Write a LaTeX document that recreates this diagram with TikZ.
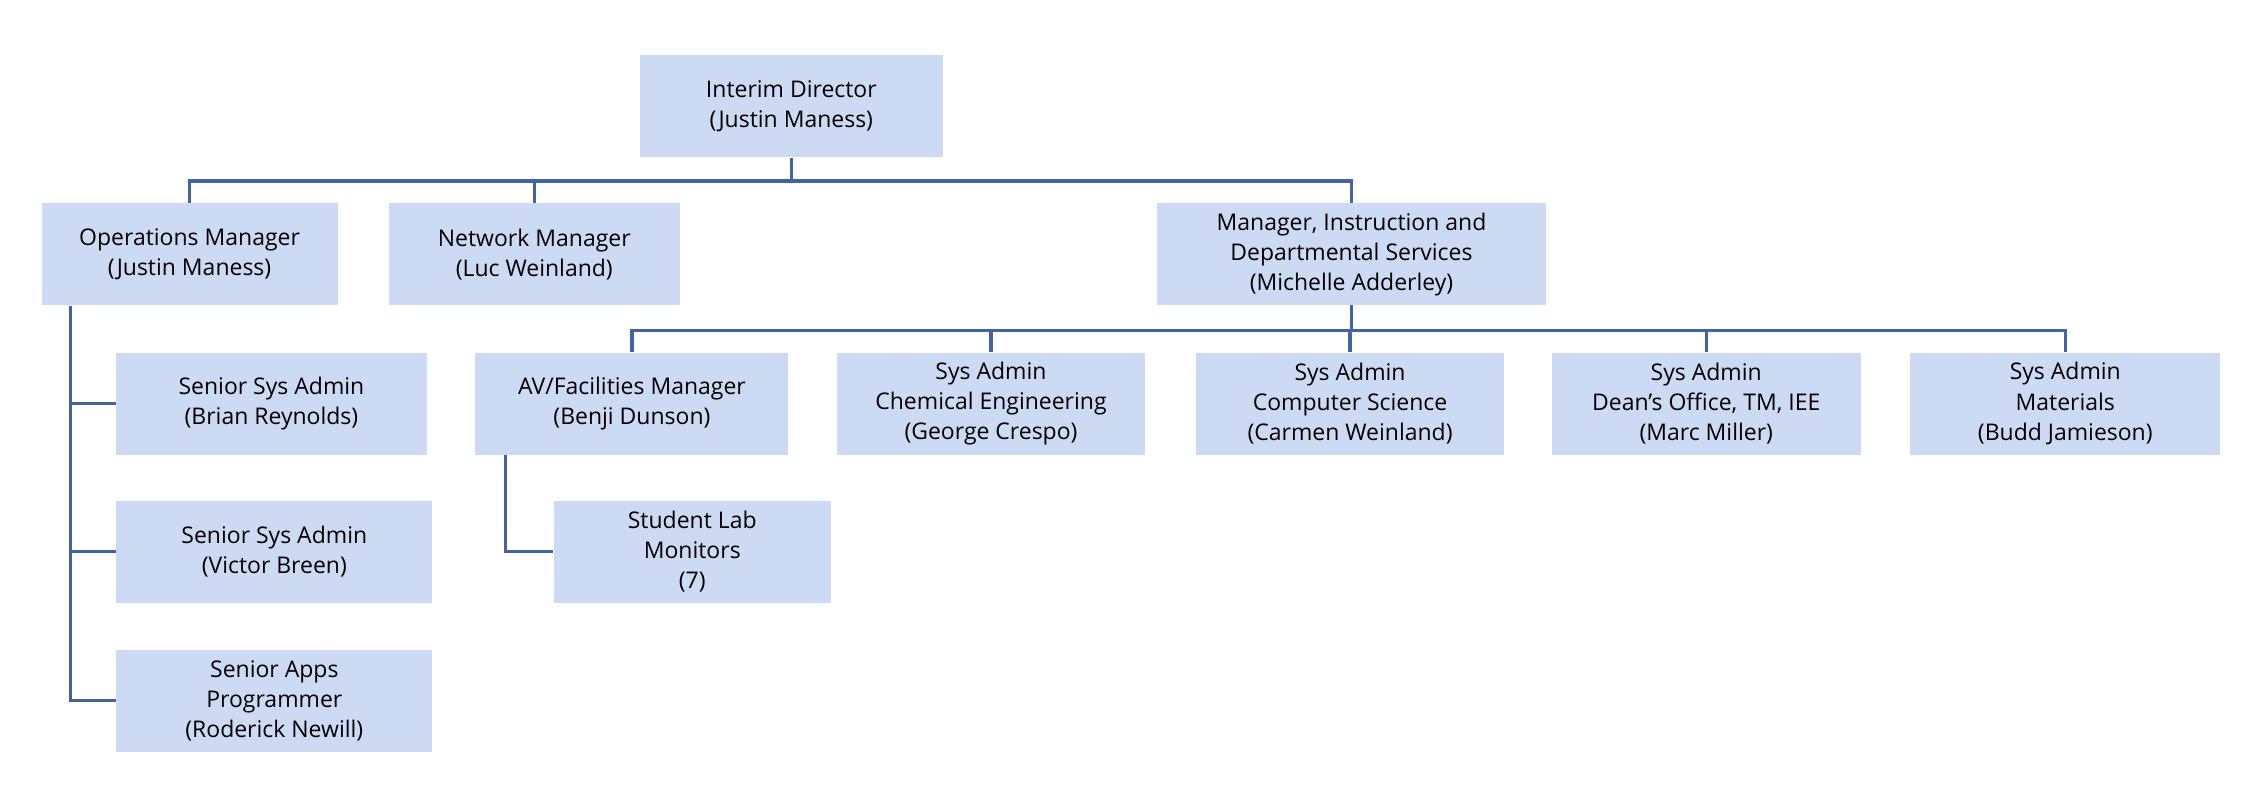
\documentclass[tikz,border=0pt]{standalone}
\usepackage{fontspec}
\setmainfont{Open Sans}
\definecolor{bx}{HTML}{CDDAF3}
\definecolor{ln}{HTML}{4462A8}
\begin{document}
\begin{tikzpicture}[x=1pt,y=-1pt,
 b/.style={fill=bx,draw=none,minimum height=71pt,align=center,font=\fontsize{16}{21}\selectfont,inner sep=0pt},
 c/.style={draw=ln,line width=2.2pt}]
\useasboundingbox (0,0) rectangle (1568,554);
\node[b,minimum width=211pt] (dir) at (551,74) {Interim Director\\(Justin Maness)};
\node[b,minimum width=206pt] (ops) at (132,177) {Operations Manager\\(Justin Maness)};
\node[b,minimum width=203pt] (net) at (372,177) {Network Manager\\(Luc Weinland)};
\node[b,minimum width=271pt] (mgr) at (941,177) {Manager, Instruction and\\Departmental Services\\(Michelle Adderley)};
\node[b,minimum width=216pt] (s1) at (189,281) {Senior Sys Admin\\(Brian Reynolds)};
\node[b,minimum width=220pt] (s2) at (191,384) {Senior Sys Admin\\(Victor Breen)};
\node[b,minimum width=220pt] (s3) at (191,488) {Senior Apps\\Programmer\\(Roderick Newill)};
\node[b,minimum width=218pt] (av) at (440,281) {AV/Facilities Manager\\(Benji Dunson)};
\node[b,minimum width=215pt] (ch) at (690,281) {Sys Admin\\Chemical Engineering\\(George Crespo)};
\node[b,minimum width=215pt] (cs) at (940,281) {Sys Admin\\Computer Science\\(Carmen Weinland)};
\node[b,minimum width=215pt] (dn) at (1188,281) {Sys Admin\\Dean's Office, TM, IEE\\(Marc Miller)};
\node[b,minimum width=216pt] (ma) at (1438,281) {Sys Admin\\Materials\\(Budd Jamieson)};
\node[b,minimum width=193pt] (sl) at (482,384) {Student Lab\\Monitors\\(7)};
\coordinate (j1) at (551,126);
\draw[c] (dir.south) -- (j1);
\draw[c] (ops.north) |- (j1) -| (mgr.north);
\draw[c] (net.north) -- (net.north |- j1);
\coordinate (j2) at (941,230);
\draw[c] (mgr.south) -- (j2);
\draw[c] (av.north) |- (j2) -| (ma.north);
\foreach \n in {ch,cs,dn} \draw[c] (\n.north) -- (\n.north |- j2);
\coordinate (o1) at (49,213);
\draw[c] (o1) |- (s3.west);
\draw[c] (s1.west) -- (s1.west -| o1);
\draw[c] (s2.west) -- (s2.west -| o1);
\coordinate (a1) at (352,317);
\draw[c] (a1) |- (sl.west);
\end{tikzpicture}
\end{document}
